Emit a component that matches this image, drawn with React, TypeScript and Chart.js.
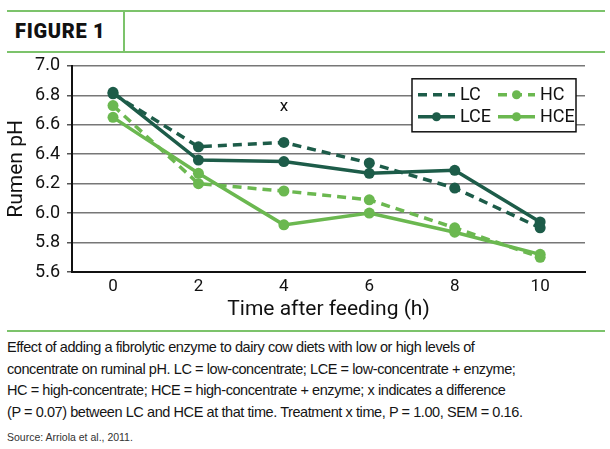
import React, { useEffect, useRef } from "react";
import { Chart, registerables } from "chart.js";

Chart.register(...registerables);

const times = [0, 2, 4, 6, 8, 10];
const lcValues = [6.81, 6.45, 6.48, 6.34, 6.17, 5.9];
const lceValues = [6.82, 6.36, 6.35, 6.27, 6.29, 5.94];
const hcValues = [6.73, 6.2, 6.15, 6.09, 5.9, 5.7];
const hceValues = [6.65, 6.27, 5.92, 6.0, 5.87, 5.72];
const seriesNames = ["LC", "LCE", "HC", "HCE"];
const legendOrder = ["LC", "HC", "LCE", "HCE"];
const legendMarkers = [false, true, true, true]; // per legendOrder
const yTicks = [5.6, 5.8, 6.0, 6.2, 6.4, 6.6, 6.8, 7.0];
const annotationText = "x";
const annotationX = 4;
const annotationY = 6.72;

const DARK = "#1d5c49";
const LIGHT = "#6bb850";
const HEADER_GREEN = "#7cc36b";
const FONT = "Roboto, 'DejaVu Sans', sans-serif";

const overlayPlugin = {
  id: "overlay",
  afterDraw(chart: any) {
    const { ctx, chartArea, scales } = chart;
    ctx.save();
    ctx.fillStyle = "#111";
    ctx.font = `17px ${FONT}`;
    ctx.textAlign = "center";
    ctx.textBaseline = "middle";
    ctx.fillText(annotationText, scales.x.getPixelForValue(annotationX), scales.y.getPixelForValue(annotationY));
    ctx.restore();

    const bw = 164;
    const bh = 53;
    const bx = chartArea.right - 9 - bw;
    const by = chartArea.top + 13;
    ctx.save();
    ctx.fillStyle = "#fff";
    ctx.fillRect(bx, by, bw, bh);
    ctx.strokeStyle = "#111";
    ctx.lineWidth = 1.5;
    ctx.strokeRect(bx, by, bw, bh);
    ctx.font = `18px ${FONT}`;
    ctx.textBaseline = "middle";
    ctx.textAlign = "left";
    legendOrder.forEach((name, i) => {
      const ds = chart.data.datasets.find((d: any) => d.label === name);
      const col = i % 2;
      const row = Math.floor(i / 2);
      const x0 = bx + 6 + col * 80;
      const yy = by + 16 + row * 22;
      ctx.strokeStyle = ds.borderColor;
      ctx.lineWidth = 3.5;
      ctx.setLineDash(ds.borderDash || []);
      ctx.beginPath();
      ctx.moveTo(x0, yy);
      ctx.lineTo(x0 + 37, yy);
      ctx.stroke();
      ctx.setLineDash([]);
      if (legendMarkers[i]) {
        ctx.fillStyle = ds.borderColor;
        ctx.beginPath();
        ctx.arc(x0 + 18.5, yy, 4.5, 0, Math.PI * 2);
        ctx.fill();
      }
      ctx.fillStyle = "#111";
      ctx.fillText(name, x0 + 42, yy + 1);
    });
    ctx.restore();
  },
};

export default function App() {
  const ref = useRef<HTMLCanvasElement>(null);

  useEffect(() => {
    document.body.style.margin = "0";
    const valuesByName: Record<string, number[]> = {
      LC: lcValues,
      LCE: lceValues,
      HC: hcValues,
      HCE: hceValues,
    };
    const styleByName: Record<string, { color: string; dash: number[] }> = {
      LC: { color: DARK, dash: [9, 6] },
      LCE: { color: DARK, dash: [] },
      HC: { color: LIGHT, dash: [9, 6] },
      HCE: { color: LIGHT, dash: [] },
    };
    const chart = new Chart(ref.current as HTMLCanvasElement, {
      type: "line",
      data: {
        datasets: seriesNames.map((name) => ({
          label: name,
          data: times.map((t, i) => ({ x: t, y: valuesByName[name][i] })),
          borderColor: styleByName[name].color,
          backgroundColor: styleByName[name].color,
          pointBackgroundColor: styleByName[name].color,
          pointBorderColor: styleByName[name].color,
          borderDash: styleByName[name].dash,
          borderWidth: 3.5,
          pointRadius: 5.5,
          pointBorderWidth: 0,
          tension: 0,
          fill: false,
        })),
      },
      options: {
        responsive: false,
        animation: false,
        layout: { padding: { left: 0, right: 25, top: 6, bottom: 0 } },
        plugins: { legend: { display: false }, tooltip: { enabled: false } },
        scales: {
          x: {
            type: "linear",
            min: -0.96,
            max: 11.05,
            afterBuildTicks: (scale: any) => {
              scale.ticks = times.map((v) => ({ value: v }));
            },
            afterFit: (scale: any) => {
              scale.height = 53;
            },
            grid: { display: false, drawTicks: false },
            border: { display: true, color: "#111", width: 2 },
            ticks: {
              color: "#111",
              font: { family: FONT, size: 17 },
              padding: 5,
              callback: (v: any) => String(v),
            },
            title: {
              display: true,
              text: "Time after feeding (h)",
              color: "#111",
              font: { family: FONT, size: 21 },
              padding: { top: 0, bottom: 3 },
            },
          },
          y: {
            min: 5.6,
            max: 7.0,
            afterBuildTicks: (scale: any) => {
              scale.ticks = yTicks.map((v) => ({ value: v }));
            },
            afterFit: (scale: any) => {
              scale.width = 72;
            },
            grid: { color: "#777", lineWidth: 1.5, tickLength: 5, tickColor: "#555" },
            border: { display: true, color: "#111", width: 2 },
            ticks: {
              color: "#111",
              font: { family: FONT, size: 18 },
              padding: 7,
              callback: (v: any) => Number(v).toFixed(1),
            },
            title: {
              display: true,
              text: "Rumen pH",
              color: "#111",
              font: { family: FONT, size: 21 },
              padding: { top: 4, bottom: 0 },
            },
          },
        },
      },
      plugins: [overlayPlugin],
    } as any);
    return () => chart.destroy();
  }, []);

  const line = (top: number) => (
    <div style={{ position: "absolute", left: 7, top, width: 598, height: 2, background: HEADER_GREEN }} />
  );

  return (
    <div style={{ position: "relative", width: 610, height: 449, background: "#fff", overflow: "hidden" }}>
      {line(10)}
      <div style={{ position: "absolute", left: 123, top: 12, width: 1.5, height: 39, background: HEADER_GREEN }} />
      {line(51)}
      <canvas ref={ref} width={610} height={277} style={{ position: "absolute", left: 0, top: 48 }} />
      <div
        style={{
          position: "absolute",
          left: 15,
          top: 18,
          fontFamily: FONT,
          fontWeight: 900,
          fontSize: 20,
          letterSpacing: 0.7,
          lineHeight: "26px",
          color: "#111",
        }}
      >
        FIGURE 1
      </div>
      {line(330)}
      <div
        style={{
          position: "absolute",
          left: 7,
          top: 337,
          fontFamily: "'Liberation Sans', Arial, sans-serif",
          fontSize: 14.5,
          letterSpacing: -0.42,
          lineHeight: "21.5px",
          color: "#151515",
          whiteSpace: "pre",
        }}
      >
        {"Effect of adding a fibrolytic enzyme to dairy cow diets with low or high levels of\nconcentrate on ruminal pH. LC = low-concentrate; LCE = low-concentrate + enzyme;\nHC = high-concentrate; HCE = high-concentrate + enzyme; x indicates a difference\n(P = 0.07) between LC and HCE at that time. Treatment x time, P = 1.00, SEM = 0.16."}
      </div>
      <div
        style={{
          position: "absolute",
          left: 7,
          top: 430,
          fontFamily: "'Liberation Sans', Arial, sans-serif",
          fontSize: 10.5,
          lineHeight: "14px",
          color: "#333",
        }}
      >
        Source: Arriola et al., 2011.
      </div>
    </div>
  );
}
